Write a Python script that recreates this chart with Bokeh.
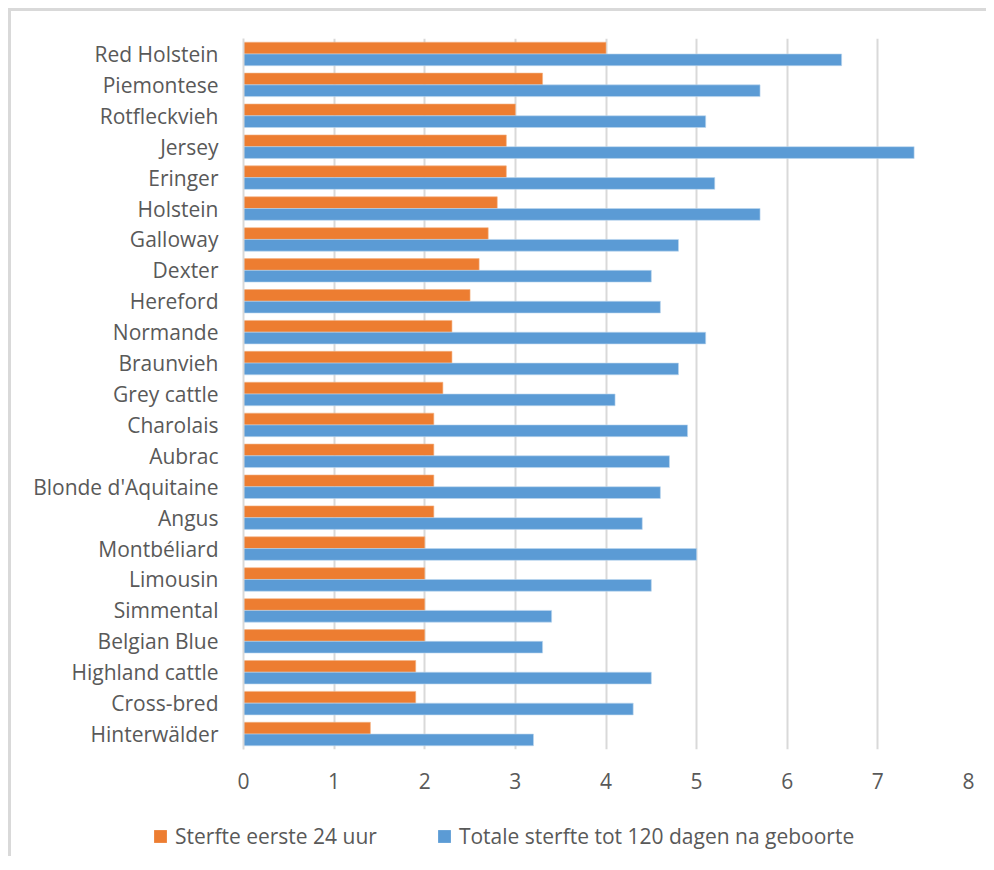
from bokeh.plotting import figure
from bokeh.models import FactorRange, Range1d, Legend, LegendItem, FixedTicker, ColumnDataSource
from bokeh.transform import dodge
from bokeh.embed import file_html
from bokeh.resources import INLINE

breeds = ["Red Holstein", "Piemontese", "Rotfleckvieh", "Jersey", "Eringer", "Holstein",
          "Galloway", "Dexter", "Hereford", "Normande", "Braunvieh", "Grey cattle",
          "Charolais", "Aubrac", "Blonde d'Aquitaine", "Angus", "Montbéliard", "Limousin",
          "Simmental", "Belgian Blue", "Highland cattle", "Cross-bred", "Hinterwälder"]
first_24h = [4.0, 3.3, 3.0, 2.9, 2.9, 2.8, 2.7, 2.6, 2.5, 2.3, 2.3, 2.2,
             2.1, 2.1, 2.1, 2.1, 2.0, 2.0, 2.0, 2.0, 1.9, 1.9, 1.4]
total_120d = [6.6, 5.7, 5.1, 7.4, 5.2, 5.7, 4.8, 4.5, 4.6, 5.1, 4.8, 4.1,
              4.9, 4.7, 4.6, 4.4, 5.0, 4.5, 3.4, 3.3, 4.5, 4.3, 3.2]
series_names = ["Sterfte eerste 24 uur", "Totale sterfte tot 120 dagen na geboorte"]
x_ticks = [0, 1, 2, 3, 4, 5, 6, 7, 8]

ORANGE = "#ED7D31"
BLUE = "#5B9BD5"
ORANGE_EDGE = "#F4B183"
BLUE_EDGE = "#BDD7EE"
TEXT = "#595959"
GRID = "#D9D9D9"
FONT = "Open Sans"
FS = "21px"

src = ColumnDataSource(dict(breed=breeds, a=first_24h, b=total_120d))

# main chart
p = figure(width=978, height=798, output_backend="svg", toolbar_location=None,
           y_range=FactorRange(*reversed(breeds)), x_range=Range1d(0, 8),
           min_border_left=232, min_border_right=21, min_border_top=27, min_border_bottom=60)
p.outline_line_color = None
p.background_fill_color = "white"
p.border_fill_color = "white"
p.styles = {"border-top": "3px solid #D9D9D9", "border-left": "3px solid #D9D9D9",
            "margin-left": "8px", "margin-top": "8px"}

p.hbar(y=dodge("breed", 0.19, range=p.y_range), right="a", left=0, height=0.38,
       source=src, fill_color=ORANGE, line_color=ORANGE_EDGE, line_width=0.6)
p.hbar(y=dodge("breed", -0.19, range=p.y_range), right="b", left=0, height=0.38,
       source=src, fill_color=BLUE, line_color=BLUE_EDGE, line_width=0.6)

p.xaxis.ticker = FixedTicker(ticks=x_ticks)
p.xaxis.axis_line_color = None
p.xaxis.major_tick_line_color = None
p.xaxis.minor_tick_line_color = None
p.xaxis.major_label_standoff = 17
p.xaxis.major_label_text_font = FONT
p.xaxis.major_label_text_font_size = FS
p.xaxis.major_label_text_color = TEXT

p.yaxis.axis_line_color = GRID
p.yaxis.axis_line_width = 2
p.yaxis.major_tick_line_color = None
p.yaxis.minor_tick_line_color = None
p.yaxis.major_label_standoff = 19
p.yaxis.major_label_text_font = FONT
p.yaxis.major_label_text_font_size = FS
p.yaxis.major_label_text_color = TEXT

p.ygrid.grid_line_color = None
p.xgrid.grid_line_color = GRID
p.xgrid.grid_line_width = 2

p.y_range.range_padding = 0
p.y_range.factor_padding = 0

# legend strip (separate root so its frame spans the full width)
p2 = figure(width=978, height=50, output_backend="svg", toolbar_location=None,
            x_range=Range1d(0, 8), y_range=FactorRange(*reversed(breeds)),
            x_axis_location=None, y_axis_location=None,
            min_border_left=0, min_border_right=0, min_border_top=0, min_border_bottom=0)
p2.outline_line_color = None
p2.grid.grid_line_color = None
p2.background_fill_alpha = 0
p2.border_fill_alpha = 0
p2.styles = {"border-left": "3px solid #D9D9D9", "margin-left": "8px"}
l1 = p2.hbar(y="breed", right="a", left=0, height=0, source=src,
             fill_color=ORANGE, line_color=None)
l2 = p2.hbar(y="breed", right="b", left=0, height=0, source=src,
             fill_color=BLUE, line_color=None)
legend = Legend(items=[LegendItem(label=series_names[0], renderers=[l1]),
                       LegendItem(label=series_names[1], renderers=[l2])],
                orientation="horizontal", location=(141, 6),
                margin=0, padding=0, spacing=59,
                glyph_width=16, glyph_height=16, label_standoff=7,
                label_text_font=FONT, label_text_font_size=FS,
                label_text_color=TEXT,
                border_line_color=None, background_fill_alpha=0)
p2.add_layout(legend, "center")

open("out.html", "w").write(file_html([p, p2], INLINE))
